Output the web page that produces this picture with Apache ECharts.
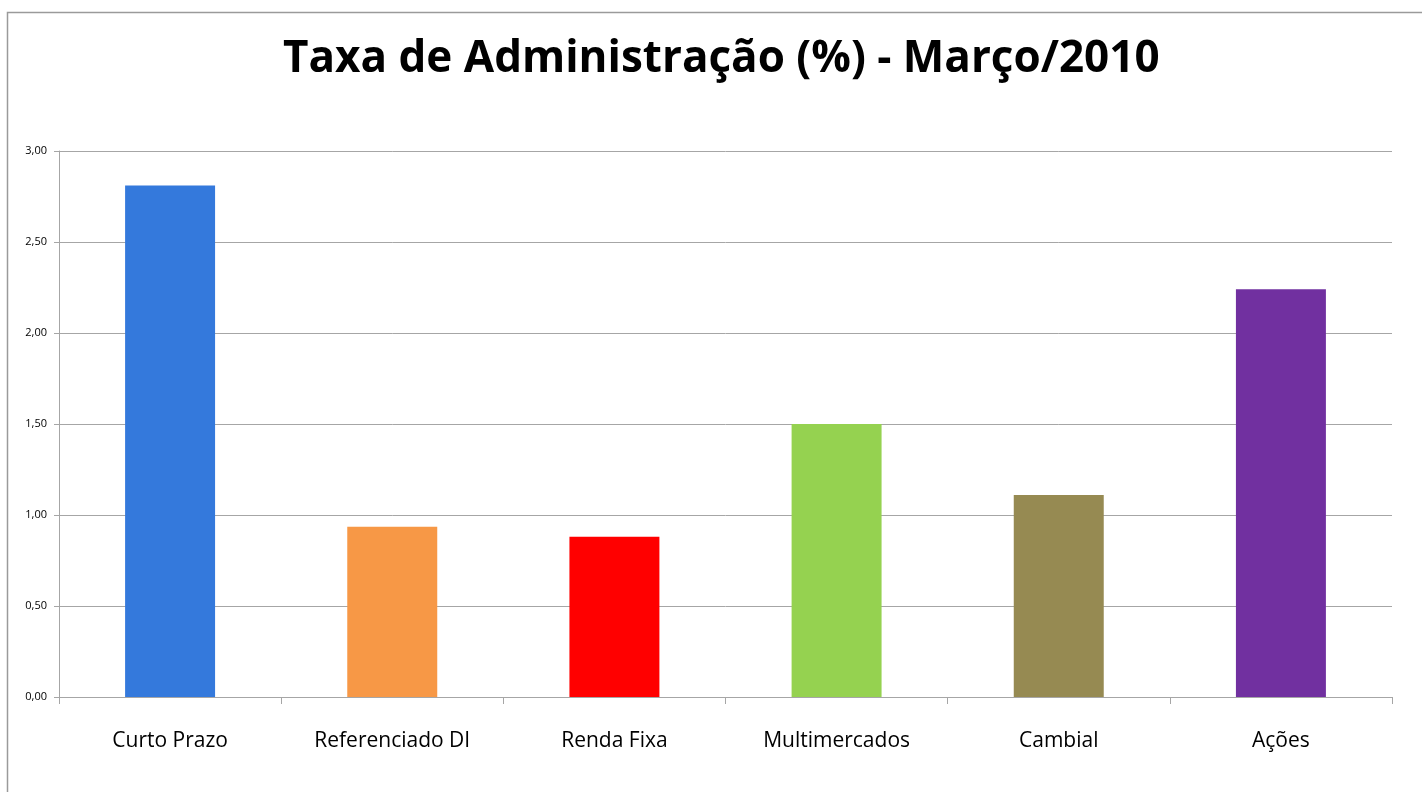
<!DOCTYPE html>
<html><head><meta charset="utf-8">
<script src="https://cdn.jsdelivr.net/npm/echarts@6/dist/echarts.min.js"></script>
<style>html,body{margin:0;padding:0;background:#fff}#c{width:1422px;height:792px}</style>
</head><body><div id="c"></div>
<script>
const categories = ['Curto Prazo','Referenciado DI','Renda Fixa','Multimercados','Cambial','Ações'];
const values = [2.81, 0.935, 0.88, 1.50, 1.11, 2.24];
const colors = ['#3479DC','#F79846','#FF0000','#95D250','#968A52','#7130A0'];
const titleText = 'Taxa de Administração (%) - Março/2010';

const chart = echarts.init(document.getElementById('c'));
chart.setOption({
  animation:false,
  backgroundColor:'#fff',
  graphic:[{type:'rect',shape:{x:7.5,y:12.5,width:1500,height:900},style:{fill:'none',stroke:'#9a9a9a',lineWidth:1.5},silent:true,z:-1}],
  title:{text:titleText,left:283,top:37,padding:0,textStyle:{fontFamily:'Open Sans',fontWeight:'bold',fontSize:44,color:'#000'}},
  grid:{left:59,right:30,top:151,bottom:95,containLabel:false},
  xAxis:{type:'category',data:categories,
    axisLine:{lineStyle:{color:'#a6a6a6',width:1}},
    axisTick:{show:true,length:7,lineStyle:{color:'#a6a6a6'}},
    axisLabel:{fontFamily:'Open Sans',fontSize:21,color:'#000',margin:34}},
  yAxis:{type:'value',min:0,max:3,interval:0.5,
    axisLine:{show:true,lineStyle:{color:'#a6a6a6'}},
    axisTick:{show:true,length:5,lineStyle:{color:'#a6a6a6'}},
    splitLine:{lineStyle:{color:'#a6a6a6'}},
    axisLabel:{fontFamily:'Open Sans',fontSize:11,color:'#000',margin:12,
      formatter:v=>v.toFixed(2).replace('.',',')}},
  series:[{type:'bar',data:values.map((v,i)=>({value:v,itemStyle:{color:colors[i]}})),barWidth:'40.5%'}]
});
</script></body></html>
